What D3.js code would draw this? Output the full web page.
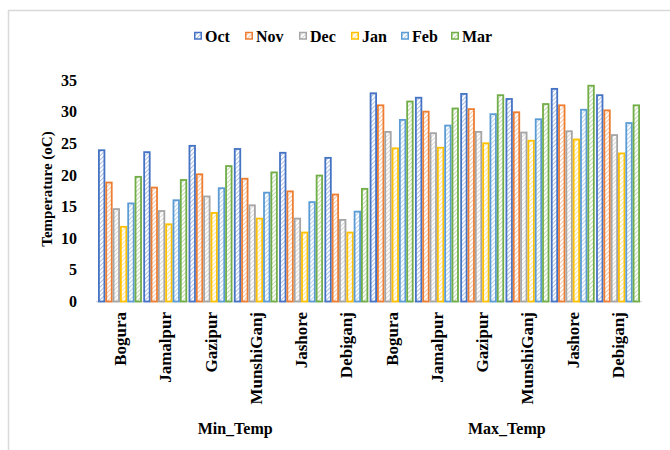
<!DOCTYPE html>
<html>
<head>
<meta charset="utf-8">
<script src="https://cdn.jsdelivr.net/npm/d3@7"></script>
<style>
  body { margin: 0; background: #fff; }
</style>
</head>
<body>
<div id="container"></div>
<script>
/* DATA */
const cities = ["Bogura", "Jamalpur", "Gazipur", "MunshiGanj", "Jashore", "Debiganj"];
const groups = ["Min_Temp", "Max_Temp"];
const months = ["Oct", "Nov", "Dec", "Jan", "Feb", "Mar"];
const colors = ["#4472C4", "#ED7D31", "#A5A5A5", "#FFC000", "#5B9BD5", "#70AD47"];
const yTicks = [0, 5, 10, 15, 20, 25, 30, 35];

// first 6 values = Min_Temp, last 6 = Max_Temp (same city order)
const oct = [23.9, 23.6, 24.6, 24.1, 23.5, 22.7, 32.9, 32.2, 32.8, 32.0, 33.6, 32.6];
const nov = [18.8, 18.0, 20.1, 19.4, 17.4, 16.9, 31.0, 30.0, 30.4, 29.9, 31.0, 30.2];
const dec = [14.6, 14.3, 16.6, 15.2, 13.1, 12.9, 26.8, 26.6, 26.8, 26.7, 26.9, 26.3];
const jan = [11.8, 12.2, 14.0, 13.1, 10.9, 10.9, 24.2, 24.3, 25.0, 25.4, 25.6, 23.4];
const feb = [15.5, 16.0, 17.9, 17.2, 15.7, 14.2, 28.7, 27.8, 29.6, 28.8, 30.3, 28.2];
const mar = [19.7, 19.2, 21.4, 20.4, 19.9, 17.8, 31.6, 30.5, 32.6, 31.2, 34.1, 31.0];
const series = [oct, nov, dec, jan, feb, mar];

/* CONSTANTS */
const width = 670,
  height = 450,
  margin = { top: 80, bottom: 148.5, left: 98, right: 30 },
  fontStack = '"Liberation Serif", "Times New Roman", serif';

const categories = [];
groups.forEach(g => cities.forEach(c => categories.push(g + "|" + c)));

const table = categories.map((key, i) => ({
  key: key,
  group: key.split("|")[0],
  city: key.split("|")[1],
  values: months.map((m, j) => ({ month: m, idx: j, value: series[j][i] }))
}));

const svg = d3.select("#container")
  .append("svg")
  .attr("width", width)
  .attr("height", height);

// every label uses the same bold serif
function label(sel, size) {
  return sel.attr("font-family", fontStack)
    .style("font-family", fontStack)
    .style("font-weight", "bold")
    .style("font-size", size + "px")
    .attr("fill", "#000");
}

// hatch patterns
const defs = svg.append("defs");
colors.forEach((c, i) => {
  const p = defs.append("pattern")
    .attr("id", "hatch" + i)
    .attr("patternUnits", "userSpaceOnUse")
    .attr("width", 3)
    .attr("height", 3)
    .attr("patternTransform", "rotate(45)");
  p.append("rect").attr("width", 3).attr("height", 3).attr("fill", "#fff");
  p.append("line")
    .attr("x1", 0).attr("y1", 0).attr("x2", 0).attr("y2", 3)
    .attr("stroke", c)
    .attr("stroke-opacity", 0.55)
    .attr("stroke-width", 1.6);
});

// outer frame
svg.append("rect")
  .attr("x", 8.5).attr("y", 10.5)
  .attr("width", 700).attr("height", 500)
  .attr("fill", "none")
  .attr("stroke", "#d9d9d9")
  .attr("stroke-width", 1.5);

// SCALES
const x0 = d3.scaleBand()
  .domain(categories)
  .range([margin.left, width - margin.right])
  .paddingInner(0.03)
  .paddingOuter(0);

const x1 = d3.scaleBand()
  .domain(months)
  .range([0, x0.bandwidth()])
  .padding(0);

const yScale = d3.scaleLinear()
  .domain([0, 35])
  .range([height - margin.bottom, margin.top]);

// AXES
const yAxis = d3.axisLeft(yScale).tickValues(yTicks).tickSize(0).tickPadding(0);
svg.append("g")
  .attr("transform", `translate(77, 0)`)
  .call(yAxis)
  .attr("font-family", fontStack)
  .call(g => g.select(".domain").remove())
  .selectAll("text")
  .call(label, 16);

svg.append("text")
  .attr("transform", `translate(52, 189) rotate(-90)`)
  .attr("text-anchor", "middle")
  .call(label, 15)
  .text("Temperature (oC)");

// baseline
svg.append("line")
  .attr("x1", margin.left - 2).attr("x2", width - margin.right + 2)
  .attr("y1", yScale(0)).attr("y2", yScale(0))
  .attr("stroke", "#d9d9d9")
  .attr("stroke-width", 1.5);

// BARS
const catG = svg.selectAll("g.cat")
  .data(table)
  .join("g")
  .attr("class", "cat")
  .attr("transform", d => `translate(${x0(d.key)}, 0)`);

catG.selectAll("rect")
  .data(d => d.values)
  .join("rect")
  .attr("x", d => x1(d.month) + 0.9)
  .attr("width", x1.bandwidth() - 1.8)
  .attr("y", d => yScale(d.value))
  .attr("height", d => yScale(0) - yScale(d.value))
  .attr("fill", d => `url(#hatch${d.idx})`)
  .attr("stroke", d => colors[d.idx])
  .attr("stroke-width", 1.8);

// category labels
svg.selectAll("text.city")
  .data(table)
  .join("text")
  .attr("class", "city")
  .attr("transform", d => `translate(${x0(d.key) + x0.bandwidth() / 2 + 6}, 312) rotate(-90)`)
  .attr("text-anchor", "end")
  .call(label, 17)
  .text(d => d.city);

// group labels
groups.forEach(g => {
  const keys = categories.filter(k => k.startsWith(g));
  const xa = x0(keys[0]);
  const xb = x0(keys[keys.length - 1]) + x0.bandwidth();
  svg.append("text")
    .attr("x", (xa + xb) / 2 + 2)
    .attr("y", 434)
    .attr("text-anchor", "middle")
    .call(label, 16)
    .text(g);
});

// LEGEND (item widths follow the text lengths of bold 16px serif)
const legendGap = [43, 46, 44, 42, 42, 0];
const legend = svg.append("g");
let cursor = 0;
months.forEach((m, i) => {
  const item = legend.append("g").attr("transform", `translate(${cursor}, 0)`);
  item.append("rect")
    .attr("x", 0.75).attr("y", -3.5)
    .attr("width", 6.5).attr("height", 6.5)
    .attr("fill", `url(#hatch${i})`)
    .attr("stroke", colors[i])
    .attr("stroke-width", 1.5);
  item.append("text")
    .attr("x", 11)
    .attr("y", 5.5)
    .call(label, 16)
    .text(m);
  cursor += i < 5 ? legendGap[i] + 8 : 0;
});
legend.attr("transform", `translate(194, 36)`);
</script>
</body>
</html>
